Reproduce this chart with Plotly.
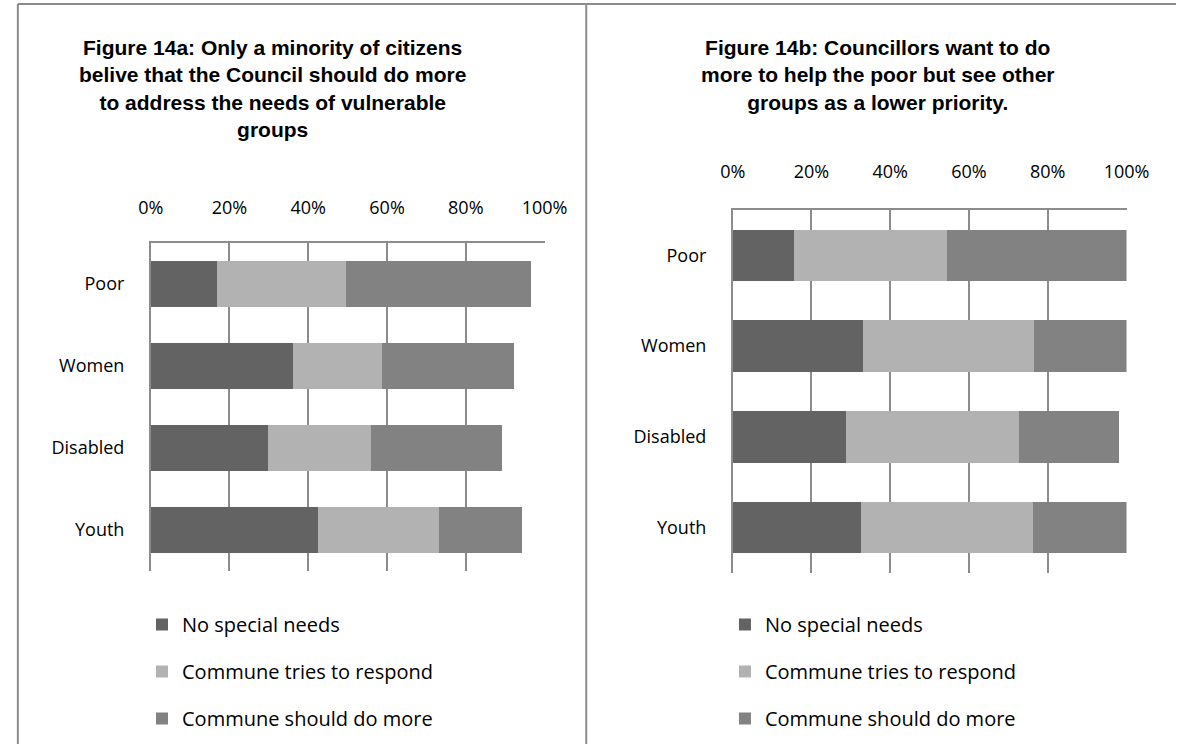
import plotly.graph_objects as go

# Survey results: share of respondents (%) per vulnerable group
groups = ["Poor", "Women", "Disabled", "Youth"]
series_names = ["No special needs", "Commune tries to respond", "Commune should do more"]

# Figure 14a - citizens
citizens_no_needs = [16.7, 36.2, 29.8, 42.6]
citizens_tries = [32.8, 22.4, 26.1, 30.5]
citizens_more = [47.0, 33.7, 33.2, 21.2]

# Figure 14b - councillors
councillors_no_needs = [15.5, 33.0, 28.8, 32.5]
councillors_tries = [39.0, 43.6, 43.9, 43.7]
councillors_more = [45.5, 23.4, 25.4, 23.8]

tick_values = [0, 20, 40, 60, 80, 100]
tick_labels = ["0%", "20%", "40%", "60%", "80%", "100%"]

title_a = ("Figure 14a: Only a minority of citizens<br>belive that the Council should do more"
           "<br>to address the needs of vulnerable<br>groups")
title_b = ("Figure 14b: Councillors want to do<br>more to help the poor but see other"
           "<br>groups as a lower priority.")

colors = ["#636363", "#b2b2b2", "#828282"]

W, H = 1199, 744
TEXT_FONT = "Open Sans, Noto Sans, sans-serif"
TITLE_FONT = "Liberation Sans Narrow, Arial Narrow, Liberation Sans, sans-serif"
GRID = "#8c8c8c"


def px_x(p):
    return p / W


def px_y(p):
    return 1 - p / H


fig = go.Figure()

panels = [
    ("x", "y", "legend", [citizens_no_needs, citizens_tries, citizens_more]),
    ("x2", "y2", "legend2", [councillors_no_needs, councillors_tries, councillors_more]),
]
for xa, ya, lg, values in panels:
    for i, (name, vals) in enumerate(zip(series_names, values)):
        fig.add_trace(go.Bar(
            y=groups, x=vals, name=name, orientation="h",
            marker=dict(color=colors[i], line=dict(width=0)),
            xaxis=xa, yaxis=ya, legend=lg, legendgroup=f"{lg}-{i}",
            hovertemplate="%{y}: %{x:.1f}%<extra>" + name + "</extra>",
        ))


def x_axis(x0, x1, anchor, standoff):
    return dict(
        domain=[px_x(x0), px_x(x1)], range=[0, 100], side="top", anchor=anchor,
        tickvals=tick_values, ticktext=tick_labels, ticks="",
        showgrid=True, gridcolor=GRID, gridwidth=1.5,
        showline=True, linecolor=GRID, linewidth=1.5, zeroline=False,
        tickfont=dict(family=TEXT_FONT, size=18, color="#000000"),
        ticklabelstandoff=standoff, fixedrange=True,
    )


def y_axis(y_top, y_bot, anchor):
    return dict(
        domain=[px_y(y_bot), px_y(y_top)], anchor=anchor,
        categoryorder="array", categoryarray=groups, autorange="reversed",
        showline=True, linecolor=GRID, linewidth=1.5, showgrid=False, ticks="",
        tickfont=dict(family=TEXT_FONT, size=18, color="#000000"),
        ticklabelstandoff=21, fixedrange=True,
    )


def legend_box(x0, y0):
    return dict(
        x=px_x(x0), y=px_y(y0), xanchor="left", yanchor="top",
        orientation="v", traceorder="grouped", tracegroupgap=18,
        font=dict(family=TEXT_FONT, size=20, color="#000000"),
        bgcolor="rgba(0,0,0,0)", borderwidth=0,
    )


fig.update_layout(
    width=W, height=H, autosize=False,
    margin=dict(l=0, r=0, t=0, b=0),
    paper_bgcolor="#ffffff", plot_bgcolor="#ffffff",
    barmode="stack", bargap=0.43,
    xaxis=x_axis(142, 548, "y", 20),
    yaxis=y_axis(243, 571, "x"),
    xaxis2=x_axis(742, 1148, "y2", 23),
    yaxis2=y_axis(210, 573, "x2"),
    legend=legend_box(133, 605),
    legend2=legend_box(734, 605),
    showlegend=True,
)

for cx, text in [(268, title_a), (892, title_b)]:
    fig.add_annotation(
        x=px_x(cx), y=px_y(34), xref="paper", yref="paper",
        xanchor="center", yanchor="top", align="center", showarrow=False,
        text=f"<b>{text}</b>",
        font=dict(family=TITLE_FONT, size=21, color="#000000"),
    )

# Panel frames
for x0, y0, x1, y1 in [(5, 4, W, 4), (5, 4, 5, H), (591, 4, 591, H)]:
    fig.add_shape(type="line", xref="paper", yref="paper",
                  x0=px_x(x0), y0=px_y(y0), x1=px_x(x1), y1=px_y(y1),
                  line=dict(color="#8c8c8c", width=2))

fig.write_html("out.html")
